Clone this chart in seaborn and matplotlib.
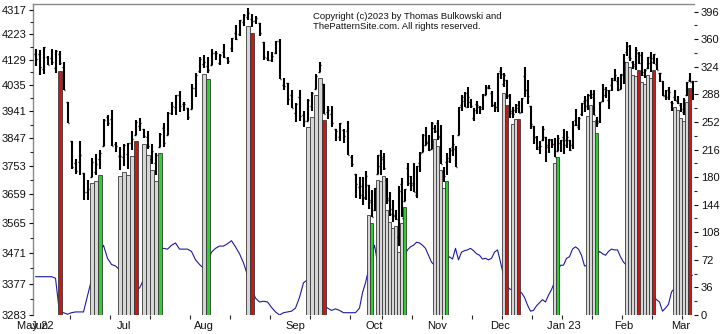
import numpy as np
import pandas as pd
import matplotlib
matplotlib.use("Agg")
import matplotlib.pyplot as plt
import seaborn as sns
from matplotlib.ticker import FixedLocator, FixedFormatter, NullFormatter

sns.set_style("white")
plt.rcParams["font.family"] = ["Liberation Sans", "DejaVu Sans"]

# ---------------- data ----------------
HOLIDAYS = ["2022-06-20", "2022-07-04", "2022-09-05", "2022-11-24",
            "2022-12-26", "2023-01-02", "2023-01-16", "2023-02-20"]
dates = pd.bdate_range("2022-05-31", "2023-03-07", freq="C", holidays=HOLIDAYS)

OPEN = [4151, 4149, 4095, 4137, 4135, 4096, 4148, 4102, 3975, 3839,
        3763, 3765, 3729, 3665, 3716, 3734, 3775, 3821, 3920, 3913,
        3826, 3785, 3782, 3792, 3831, 3858, 3889, 3880, 3851, 3776,
        3764, 3818, 3883, 3860, 3935, 3956, 4000, 3966, 3953, 3951,
        4026, 4087, 4113, 4105, 4107, 4154, 4115, 4156, 4134, 4171,
        4227, 4225, 4269, 4290, 4281, 4273, 4266, 4195, 4134, 4127,
        4154, 4199, 4034, 4042, 4000, 3937, 3994, 3930, 3909, 3960,
        4022, 4084, 4040, 3940, 3932, 3880, 3850, 3876, 3871, 3783,
        3727, 3682, 3687, 3651, 3688, 3633, 3609, 3726, 3754, 3775,
        3706, 3647, 3595, 3590, 3521, 3691, 3638, 3747, 3696, 3689,
        3657, 3762, 3799, 3825, 3835, 3809, 3882, 3901, 3853, 3733,
        3766, 3780, 3817, 3810, 3859, 3963, 3977, 4006, 3976, 3919,
        3967, 3957, 3956, 4001, 4024, 4006, 3965, 3957, 4087, 4040,
        4053, 3996, 3937, 3947, 3954, 3939, 4069, 4016, 3959, 3891,
        3853, 3810, 3840, 3853, 3816, 3843, 3829, 3805, 3830, 3853,
        3840, 3840, 3823, 3910, 3888, 3932, 3977, 3960, 3999, 4003,
        3911, 3909, 3979, 4001, 3982, 4037, 4053, 4050, 4020, 4071,
        4158, 4137, 4120, 4106, 4153, 4144, 4073, 4098, 4118, 4119,
        4114, 4078, 4052, 4001, 4018, 3973, 3993, 3977, 3964, 3938,
        3999, 4055, 4049]
HIGH = [4168, 4166, 4177, 4143, 4169, 4164, 4160, 4119, 3975, 3839,
        3778, 3838, 3729, 3707, 3779, 3792, 3808, 3914, 3928, 3945,
        3836, 3818, 3829, 3832, 3871, 3910, 3919, 3880, 3873, 3829,
        3796, 3864, 3902, 3939, 3975, 3999, 4013, 3975, 3953, 4040,
        4079, 4140, 4144, 4140, 4167, 4162, 4151, 4187, 4138, 4211,
        4258, 4280, 4301, 4325, 4302, 4292, 4266, 4195, 4160, 4156,
        4200, 4204, 4062, 4044, 4016, 3970, 4019, 3942, 3987, 4011,
        4077, 4119, 4040, 3962, 3959, 3880, 3900, 3878, 3907, 3790,
        3727, 3716, 3717, 3736, 3688, 3672, 3679, 3791, 3806, 3797,
        3714, 3666, 3641, 3608, 3685, 3712, 3677, 3762, 3719, 3762,
        3752, 3799, 3862, 3886, 3859, 3905, 3893, 3911, 3894, 3750,
        3796, 3814, 3859, 3819, 3958, 4001, 4009, 4028, 3984, 3954,
        3979, 3962, 4004, 4034, 4034, 4013, 3976, 4080, 4101, 4080,
        4053, 4002, 3957, 3967, 3977, 3990, 4101, 4054, 3959, 3891,
        3855, 3839, 3889, 3853, 3845, 3846, 3849, 3858, 3840, 3879,
        3874, 3840, 3906, 3951, 3920, 3970, 3997, 4003, 4016, 4017,
        3922, 3973, 4040, 4028, 4019, 4061, 4095, 4063, 4077, 4148,
        4195, 4183, 4125, 4176, 4157, 4157, 4095, 4138, 4156, 4148,
        4136, 4081, 4052, 4018, 4028, 3979, 4018, 3997, 3972, 3990,
        4048, 4079, 4051]
LOW = [4104, 4073, 4074, 4107, 4110, 4081, 4107, 4017, 3900, 3744,
       3725, 3723, 3640, 3640, 3716, 3723, 3743, 3821, 3889, 3820,
       3800, 3738, 3753, 3742, 3808, 3858, 3873, 3847, 3812, 3759,
       3722, 3817, 3818, 3860, 3929, 3927, 3938, 3944, 3911, 3951,
       3993, 4080, 4097, 4079, 4107, 4128, 4108, 4133, 4112, 4158,
       4201, 4219, 4257, 4277, 4253, 4261, 4219, 4129, 4124, 4120,
       4148, 4057, 4017, 3965, 3954, 3903, 3907, 3887, 3906, 3944,
       4022, 4084, 3933, 3913, 3888, 3838, 3838, 3831, 3789, 3750,
       3648, 3644, 3624, 3640, 3611, 3585, 3603, 3726, 3722, 3739,
       3627, 3589, 3570, 3574, 3492, 3584, 3638, 3686, 3668, 3665,
       3647, 3733, 3799, 3824, 3803, 3809, 3864, 3843, 3758, 3699,
       3721, 3764, 3786, 3748, 3859, 3944, 3957, 3954, 3955, 3907,
       3933, 3933, 3947, 3999, 4021, 3956, 3938, 3938, 4059, 4027,
       3984, 3919, 3919, 3934, 3934, 3935, 3994, 3966, 3879, 3828,
       3807, 3795, 3839, 3765, 3798, 3813, 3784, 3805, 3801, 3795,
       3815, 3802, 3809, 3890, 3877, 3925, 3938, 3947, 3986, 3928,
       3886, 3899, 3973, 3990, 3950, 4013, 4049, 4015, 4020, 4038,
       4141, 4124, 4094, 4089, 4111, 4070, 4061, 4093, 4084, 4113,
       4092, 4048, 3995, 3981, 3983, 3944, 3977, 3969, 3939, 3929,
       3995, 4045, 3980]
CLOSE = [4132, 4101, 4176, 4109, 4121, 4161, 4116, 4018, 3901, 3750,
         3735, 3790, 3667, 3675, 3765, 3760, 3796, 3912, 3901, 3821,
         3819, 3785, 3825, 3831, 3845, 3903, 3899, 3855, 3819, 3802,
         3790, 3863, 3831, 3937, 3960, 3999, 3962, 3967, 3921, 4024,
         4072, 4130, 4119, 4091, 4155, 4152, 4145, 4140, 4122, 4210,
         4207, 4280, 4297, 4305, 4275, 4284, 4228, 4138, 4128, 4141,
         4199, 4058, 4031, 3986, 3955, 3967, 3924, 3909, 3980, 4006,
         4067, 4110, 3932, 3946, 3901, 3873, 3900, 3856, 3790, 3758,
         3693, 3655, 3647, 3720, 3640, 3586, 3678, 3791, 3783, 3745,
         3640, 3612, 3589, 3577, 3670, 3583, 3677, 3720, 3695, 3666,
         3752, 3797, 3859, 3831, 3807, 3901, 3872, 3856, 3760, 3720,
         3771, 3807, 3828, 3749, 3956, 3993, 3957, 3992, 3959, 3947,
         3965, 3950, 4003, 4027, 4026, 3964, 3958, 4080, 4077, 4072,
         3999, 3941, 3933, 3964, 3934, 3990, 4019, 3996, 3896, 3852,
         3817, 3821, 3879, 3823, 3845, 3829, 3783, 3849, 3840, 3824,
         3853, 3808, 3895, 3893, 3919, 3970, 3983, 3999, 3991, 3929,
         3899, 3973, 4020, 4017, 4016, 4060, 4071, 4018, 4077, 4119,
         4180, 4136, 4111, 4164, 4118, 4082, 4090, 4137, 4136, 4148,
         4090, 4079, 3997, 3991, 4012, 3970, 3982, 3970, 3951, 3982,
         4046, 4048, 3986]

# blue oscillator line (right axis units)
LINE = [50, 50, 50, 50, 50, 48, 3, 3, 1, 3,
        4, 4, 4, 25, 46, 65, 82, 91, 74, 66,
        64, 59, 52, 46, 40, 36, 35, 46, 59, 72,
        82, 86, 87, 86, 91, 94, 86, 86, 86, 83,
        72, 66, 61, 69, 82, 87, 90, 90, 93, 97,
        89, 80, 68, 52, 35, 22, 17, 18, 17, 10,
        4, 0, 3, 4, 5, 9, 23, 42, 46, 39,
        30, 20, 13, 9, 6, 8, 6, 3, 3, 3,
        3, 9, 29, 42, 59, 78, 91, 69, 56, 61,
        52, 46, 43, 46, 59, 69, 78, 85, 89, 91,
        95, 94, 91, 87, 78, 69, 65, 61, 59, 64,
        72, 76, 73, 87, 72, 82, 84, 85, 87, 84,
        80, 78, 73, 74, 72, 74, 82, 85, 69, 52,
        39, 34, 33, 33, 31, 29, 23, 13, 5, 6,
        12, 16, 20, 17, 26, 33, 43, 56, 65, 65,
        74, 76, 86, 89, 86, 78, 64, 65, 69, 72,
        77, 83, 80, 78, 83, 86, 85, 85, 76, 69,
        65, 61, 59, 56, 52, 48, 43, 35, 30, 25,
        20, 17, 5, 9, 14, 30, 35, 39, 43, 46,
        48, 51, 52]

SIGNAL_DATES = ["2022-06-08", "2022-06-21", "2022-06-22", "2022-06-23",
                "2022-06-30", "2022-07-01", "2022-07-05", "2022-07-06", "2022-07-07",
                "2022-07-11", "2022-07-12", "2022-07-13", "2022-07-14", "2022-07-15",
                "2022-08-01", "2022-08-02", "2022-08-16", "2022-08-17",
                "2022-09-07", "2022-09-08", "2022-09-09", "2022-09-12", "2022-09-13",
                "2022-09-29", "2022-09-30",
                "2022-10-04", "2022-10-05", "2022-10-06", "2022-10-07", "2022-10-10",
                "2022-10-11", "2022-10-12", "2022-10-13", "2022-10-14", "2022-10-17",
                "2022-10-31", "2022-11-01", "2022-11-02", "2022-11-03", "2022-11-04",
                "2022-12-02", "2022-12-05", "2022-12-07", "2022-12-08", "2022-12-09",
                "2022-12-28", "2022-12-29",
                "2023-01-13", "2023-01-17", "2023-01-18", "2023-01-19",
                "2023-02-02", "2023-02-03", "2023-02-06", "2023-02-07", "2023-02-08",
                "2023-02-09", "2023-02-10", "2023-02-13", "2023-02-14", "2023-02-15",
                "2023-02-27", "2023-02-28", "2023-03-01", "2023-03-02", "2023-03-03",
                "2023-03-06"]
SIGNAL_KIND = ["red", "gray", "gray", "green",
               "gray", "gray", "gray", "gray", "red",
               "gray", "gray", "gray", "gray", "green",
               "gray", "green", "gray", "red",
               "gray", "gray", "gray", "gray", "red",
               "gray", "green",
               "gray", "gray", "gray", "gray", "gray",
               "gray", "gray", "gray", "gray", "green",
               "gray", "gray", "gray", "gray", "green",
               "gray", "red", "gray", "gray", "red",
               "gray", "green",
               "gray", "gray", "gray", "green",
               "gray", "gray", "gray", "gray", "red",
               "gray", "gray", "gray", "gray", "red",
               "gray", "gray", "gray", "gray", "gray",
               "red"]

LEFT_TICKS = [3283, 3377, 3471, 3565, 3659, 3753, 3847, 3941, 4035, 4129, 4223, 4317]
RIGHT_TICKS = [0, 36, 72, 108, 144, 180, 216, 252, 288, 324, 360, 396]
COPYRIGHT = "Copyright (c)2023 by Thomas Bulkowski and\nThePatternSite.com. All rights reserved."

# ---------------- layout / style ----------------
W, H = 725, 334
L, R, T, B = 33, 694, 4, 315
PRICE_LIM = (3283, 4340)
RIGHT_LIM = (0, 406)
SPLIT = 81  # bar spacing narrows after this bar in the reference picture
COLORS = {"gray": "#d6d6d6", "red": "#cc1515", "green": "#2ad12a"}


def fwd(x):
    x = np.asarray(x, dtype=float)
    return np.where(x <= SPLIT, 4.0 * x, 4.0 * SPLIT + 3.0 * (x - SPLIT))


def inv(u):
    u = np.asarray(u, dtype=float)
    return np.where(u <= 4.0 * SPLIT, u / 4.0, SPLIT + (u - 4.0 * SPLIT) / 3.0)


idx = np.arange(len(dates))
O = np.array(OPEN, float)
Hh = np.array(HIGH, float)
Lo = np.array(LOW, float)
C = np.array(CLOSE, float)

fig = plt.figure(figsize=(W / 100, H / 100), dpi=100)
fig.patch.set_facecolor("white")
ax_line = fig.add_axes([L / W, 1 - B / H, (R - L) / W, (B - T) / H])
ax_price = ax_line.twinx()

ax_line.set_xscale("function", functions=(fwd, inv))
ax_line.set_xlim(-0.625, 192.5)

# blue line (right axis), drawn underneath
ax_line.set_ylim(*RIGHT_LIM)
sns.lineplot(x=idx, y=LINE, ax=ax_line, color="#1a1aa6", linewidth=0.8, zorder=1)
ax_line.set_xlabel("")
ax_line.set_ylabel("")

# price axis (log)
ax_price.set_yscale("log")
ax_price.set_ylim(*PRICE_LIM)

pos = dates.get_indexer(pd.to_datetime(SIGNAL_DATES))
px_per_log = (B - T) / np.log(PRICE_LIM[1] / PRICE_LIM[0])
gap = np.exp(-6.0 / px_per_log)
tops = Lo[pos] * gap
ax_price.bar(pos, tops - PRICE_LIM[0], bottom=PRICE_LIM[0], width=1.0,
             color=[COLORS[k] for k in SIGNAL_KIND], edgecolor="#3a3a3a",
             linewidth=0.6, zorder=2)

ax_price.vlines(idx, Lo, Hh, color="black", linewidth=1.5, zorder=3)
ax_price.hlines(O, idx - 0.45, idx, color="black", linewidth=1.0, zorder=3)
ax_price.hlines(C, idx, idx + 0.45, color="black", linewidth=1.0, zorder=3)
ax_price.set_xlim(-0.625, 192.5)

# left ticks
ax_price.yaxis.tick_left()
ax_price.yaxis.set_major_locator(FixedLocator(LEFT_TICKS))
ax_price.yaxis.set_major_formatter(FixedFormatter([str(v) for v in LEFT_TICKS]))
ax_price.yaxis.set_minor_locator(FixedLocator([v + 47 for v in LEFT_TICKS[:-1]]))
ax_price.yaxis.set_minor_formatter(NullFormatter())
ax_price.tick_params(axis="y", which="major", length=3, width=0.8, pad=1.5,
                     labelsize=8, colors="#111111", left=True, right=False)
ax_price.tick_params(axis="y", which="minor", length=2, width=0.8, left=True, right=False)

# right ticks
ax_line.yaxis.tick_right()
ax_line.yaxis.set_major_locator(FixedLocator(RIGHT_TICKS))
ax_line.yaxis.set_major_formatter(FixedFormatter([str(v) for v in RIGHT_TICKS]))
ax_line.yaxis.set_minor_locator(FixedLocator([v + 18 for v in RIGHT_TICKS[:-1]]))
ax_line.yaxis.set_minor_formatter(NullFormatter())
ax_line.tick_params(axis="y", which="major", length=3, width=0.8, pad=2,
                    labelsize=8, colors="#111111", right=True, left=False)
ax_line.tick_params(axis="y", which="minor", length=2, width=0.8, right=True, left=False)

# x ticks: month labels at first bar of each month, small ticks every 10 bars
month_pos, month_lab = [], []
prev = None
for i, d in enumerate(dates):
    key = (d.year, d.month)
    if key != prev:
        month_pos.append(i)
        if prev is None or d.month == 1:
            month_lab.append(d.strftime("%b %y"))
        else:
            month_lab.append(d.strftime("%b"))
        prev = key
ax_line.xaxis.set_major_locator(FixedLocator(month_pos))
ax_line.xaxis.set_major_formatter(FixedFormatter(month_lab))
ax_line.xaxis.set_minor_locator(FixedLocator(np.arange(8.5, 193, 10)))
ax_line.xaxis.set_minor_formatter(NullFormatter())
ax_line.tick_params(axis="x", which="major", length=0, pad=4.5, labelsize=8, colors="#111111")
ax_line.tick_params(axis="x", which="minor", length=3, width=0.8, bottom=True)

for ax in (ax_line, ax_price):
    for s in ax.spines.values():
        s.set_visible(False)
for s in ("left", "top"):
    ax_line.spines[s].set_visible(True)
    ax_line.spines[s].set_color("#8a8a8a")
    ax_line.spines[s].set_linewidth(1.0)

fig.text(313 / W, 1 - 12 / H, COPYRIGHT, ha="left", va="top",
         fontsize=6.8, linespacing=1.2, color="#111111")

fig.savefig("out.png", dpi=100)
